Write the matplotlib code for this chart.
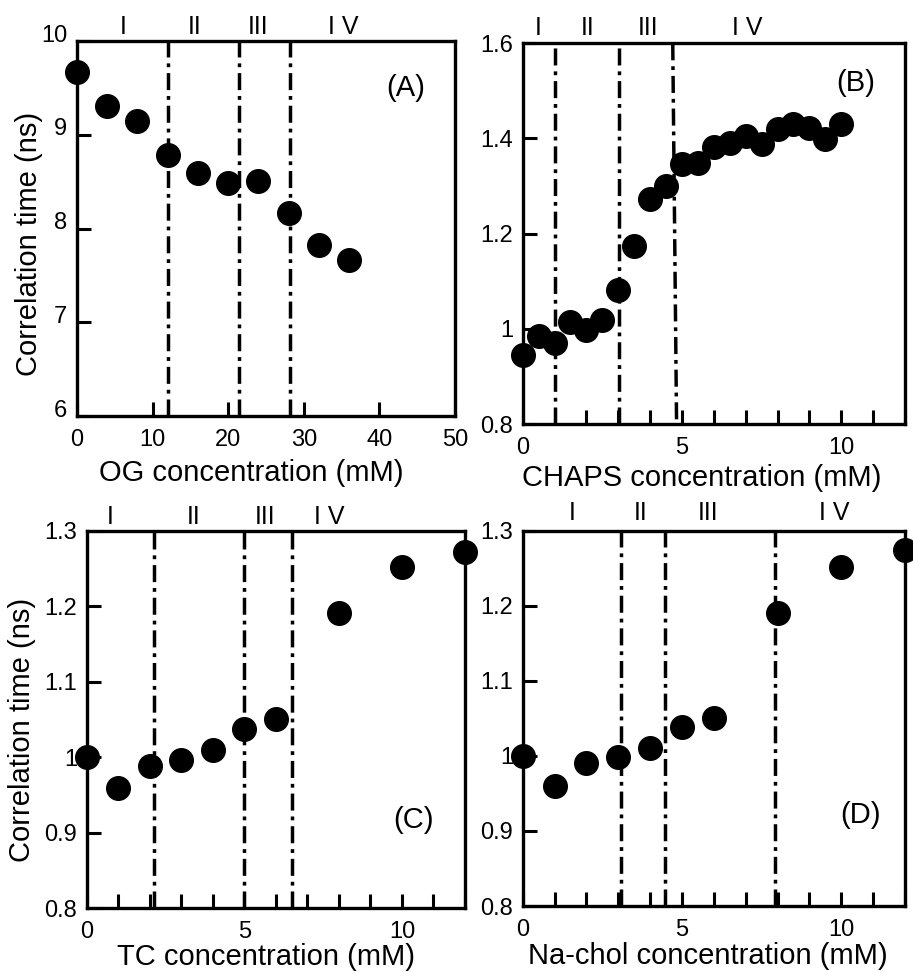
import matplotlib
matplotlib.use('Agg')
import matplotlib.pyplot as plt
import matplotlib.transforms as mtransforms
from matplotlib.ticker import MultipleLocator, FuncFormatter

plt.rcParams['font.family'] = ['Liberation Sans', 'DejaVu Sans']

# ---------------- data ----------------
region_labels = ['I', 'II', 'III', 'I V']

og_x = [0, 4, 8, 12, 16, 20, 24, 28, 32, 36]
og_y = [9.67, 9.31, 9.15, 8.78, 8.59, 8.49, 8.51, 8.17, 7.82, 7.66]
og_bounds = [12.0, 21.4, 28.2]
og_region_x = [6.1, 15.5, 24.0, 35.2]

chaps_x = [0, 0.5, 1, 1.5, 2, 2.5, 3, 3.5, 4, 4.5, 5, 5.5, 6, 6.5, 7, 7.5,
           8, 8.5, 9, 9.5, 10]
chaps_y = [0.946, 0.984, 0.970, 1.014, 0.997, 1.018, 1.082, 1.173, 1.273,
           1.300, 1.346, 1.349, 1.383, 1.391, 1.405, 1.388, 1.419, 1.430,
           1.421, 1.398, 1.430]
chaps_bounds = [1.02, 3.02]
chaps_slant_x = [4.71, 4.83]
chaps_slant_y = [1.6, 0.8]
chaps_region_x = [0.5, 2.03, 3.93, 7.06]

tc_x = [0, 1, 2, 3, 4, 5, 6, 8, 10, 12]
tc_y = [1.0, 0.959, 0.988, 0.997, 1.010, 1.038, 1.051, 1.191, 1.252, 1.272]
tc_bounds = [2.13, 5.0, 6.52]
tc_region_x = [0.76, 3.4, 5.65, 7.7]

nachol_x = [0, 1, 2, 3, 4, 5, 6, 8, 10, 12]
nachol_y = [1.0, 0.960, 0.990, 0.998, 1.010, 1.039, 1.051, 1.191, 1.252, 1.274]
nachol_bounds = [3.08, 4.47, 7.93]
nachol_region_x = [1.55, 3.7, 5.82, 9.78]

# ---------------- style ----------------
W, H = 913, 972
fig = plt.figure(figsize=(W / 100, H / 100), dpi=100)

def rect(l, r, t, b):
    return [l / W, 1 - b / H, (r - l) / W, (b - t) / H]

DASHDOT = (0, (4.9, 1.7, 1.1, 1.7))
LW_SPINE = 2.4
MS = 17
TICK_FS = 17
LABEL_FS = 21
ROMAN_FS = 18
PANEL_FS = 21

fmt = FuncFormatter(lambda v, p: f'{v:g}')


def style_axes(ax, xlim, ylim, xmajor, xminor, ymajor):
    ax.set_xlim(*xlim)
    ax.set_ylim(*ylim)
    for s in ax.spines.values():
        s.set_linewidth(LW_SPINE)
    ax.xaxis.set_major_locator(MultipleLocator(xmajor))
    if xminor:
        ax.xaxis.set_minor_locator(MultipleLocator(xminor))
    ax.yaxis.set_major_locator(MultipleLocator(ymajor))
    ax.xaxis.set_major_formatter(fmt)
    ax.yaxis.set_major_formatter(fmt)
    ax.tick_params(which='both', direction='in', length=10, width=2.2,
                   top=False, right=False, labelsize=TICK_FS, pad=9)
    ax.tick_params(axis='y', pad=7)


def draw_panel(ax, xs, ys, bounds, region_x, letter, letter_xy, roman_y=1.037):
    for b in bounds:
        ax.axvline(b, color='black', lw=2.5, ls=DASHDOT, zorder=2)
    ax.plot(xs, ys, 'o', color='black', ms=MS, clip_on=False, zorder=5)
    trans = mtransforms.blended_transform_factory(ax.transData, ax.transAxes)
    for rx, lab in zip(region_x, region_labels):
        ax.text(rx, roman_y, lab, transform=trans, ha='center', va='center',
                fontsize=ROMAN_FS)
    ax.text(letter_xy[0], letter_xy[1], letter, ha='center', va='center',
            fontsize=PANEL_FS)


def place_xlabel(ax, text, fx, fy):
    ax.set_xlabel(text, fontsize=LABEL_FS)
    ax.xaxis.set_label_coords(fx, fy)
    ax.xaxis.label.set_va('center')


# Panel A
axA = fig.add_axes(rect(77, 455, 41, 416))
style_axes(axA, (0, 50), (6, 10), 10, None, 1)
draw_panel(axA, og_x, og_y, og_bounds, og_region_x, '(A)', (43.5, 9.5))
place_xlabel(axA, 'OG concentration (mM)', 0.46, -0.152)
axA.set_ylabel('Correlation time (ns)', fontsize=LABEL_FS)
axA.yaxis.set_label_coords(-0.127, 0.459)
axA.yaxis.label.set_va('center')
off = mtransforms.ScaledTranslation(0, 8 / 100, fig.dpi_scale_trans)
for lab in axA.get_yticklabels():
    lab.set_transform(lab.get_transform() + off)

# Panel B
axB = fig.add_axes(rect(522.7, 905, 43.3, 424))
style_axes(axB, (0, 12), (0.8, 1.6), 5, 1, 0.2)
draw_panel(axB, chaps_x, chaps_y, chaps_bounds, chaps_region_x, '(B)', (10.44, 1.517),
           roman_y=1.04)
axB.plot(chaps_slant_x, chaps_slant_y, color='black', lw=2.5, ls=DASHDOT, zorder=2)
place_xlabel(axB, 'CHAPS concentration (mM)', 0.469, -0.142)

# Panel C
axC = fig.add_axes(rect(86.7, 465, 530.7, 908.3))
style_axes(axC, (0, 12), (0.8, 1.3), 5, 1, 0.1)
draw_panel(axC, tc_x, tc_y, tc_bounds, tc_region_x, '(C)', (10.36, 0.917))
place_xlabel(axC, 'TC concentration (mM)', 0.475, -0.128)
axC.set_ylabel('Correlation time (ns)', fontsize=LABEL_FS)
axC.yaxis.set_label_coords(-0.17, 0.472)
axC.yaxis.label.set_va('center')

# Panel D
axD = fig.add_axes(rect(522.7, 905, 530.7, 906))
style_axes(axD, (0, 12), (0.8, 1.3), 5, 1, 0.1)
draw_panel(axD, nachol_x, nachol_y, nachol_bounds, nachol_region_x, '(D)', (10.6, 0.921),
           roman_y=1.046)
place_xlabel(axD, 'Na-chol concentration (mM)', 0.483, -0.134)

fig.savefig('out.png', dpi=100)
